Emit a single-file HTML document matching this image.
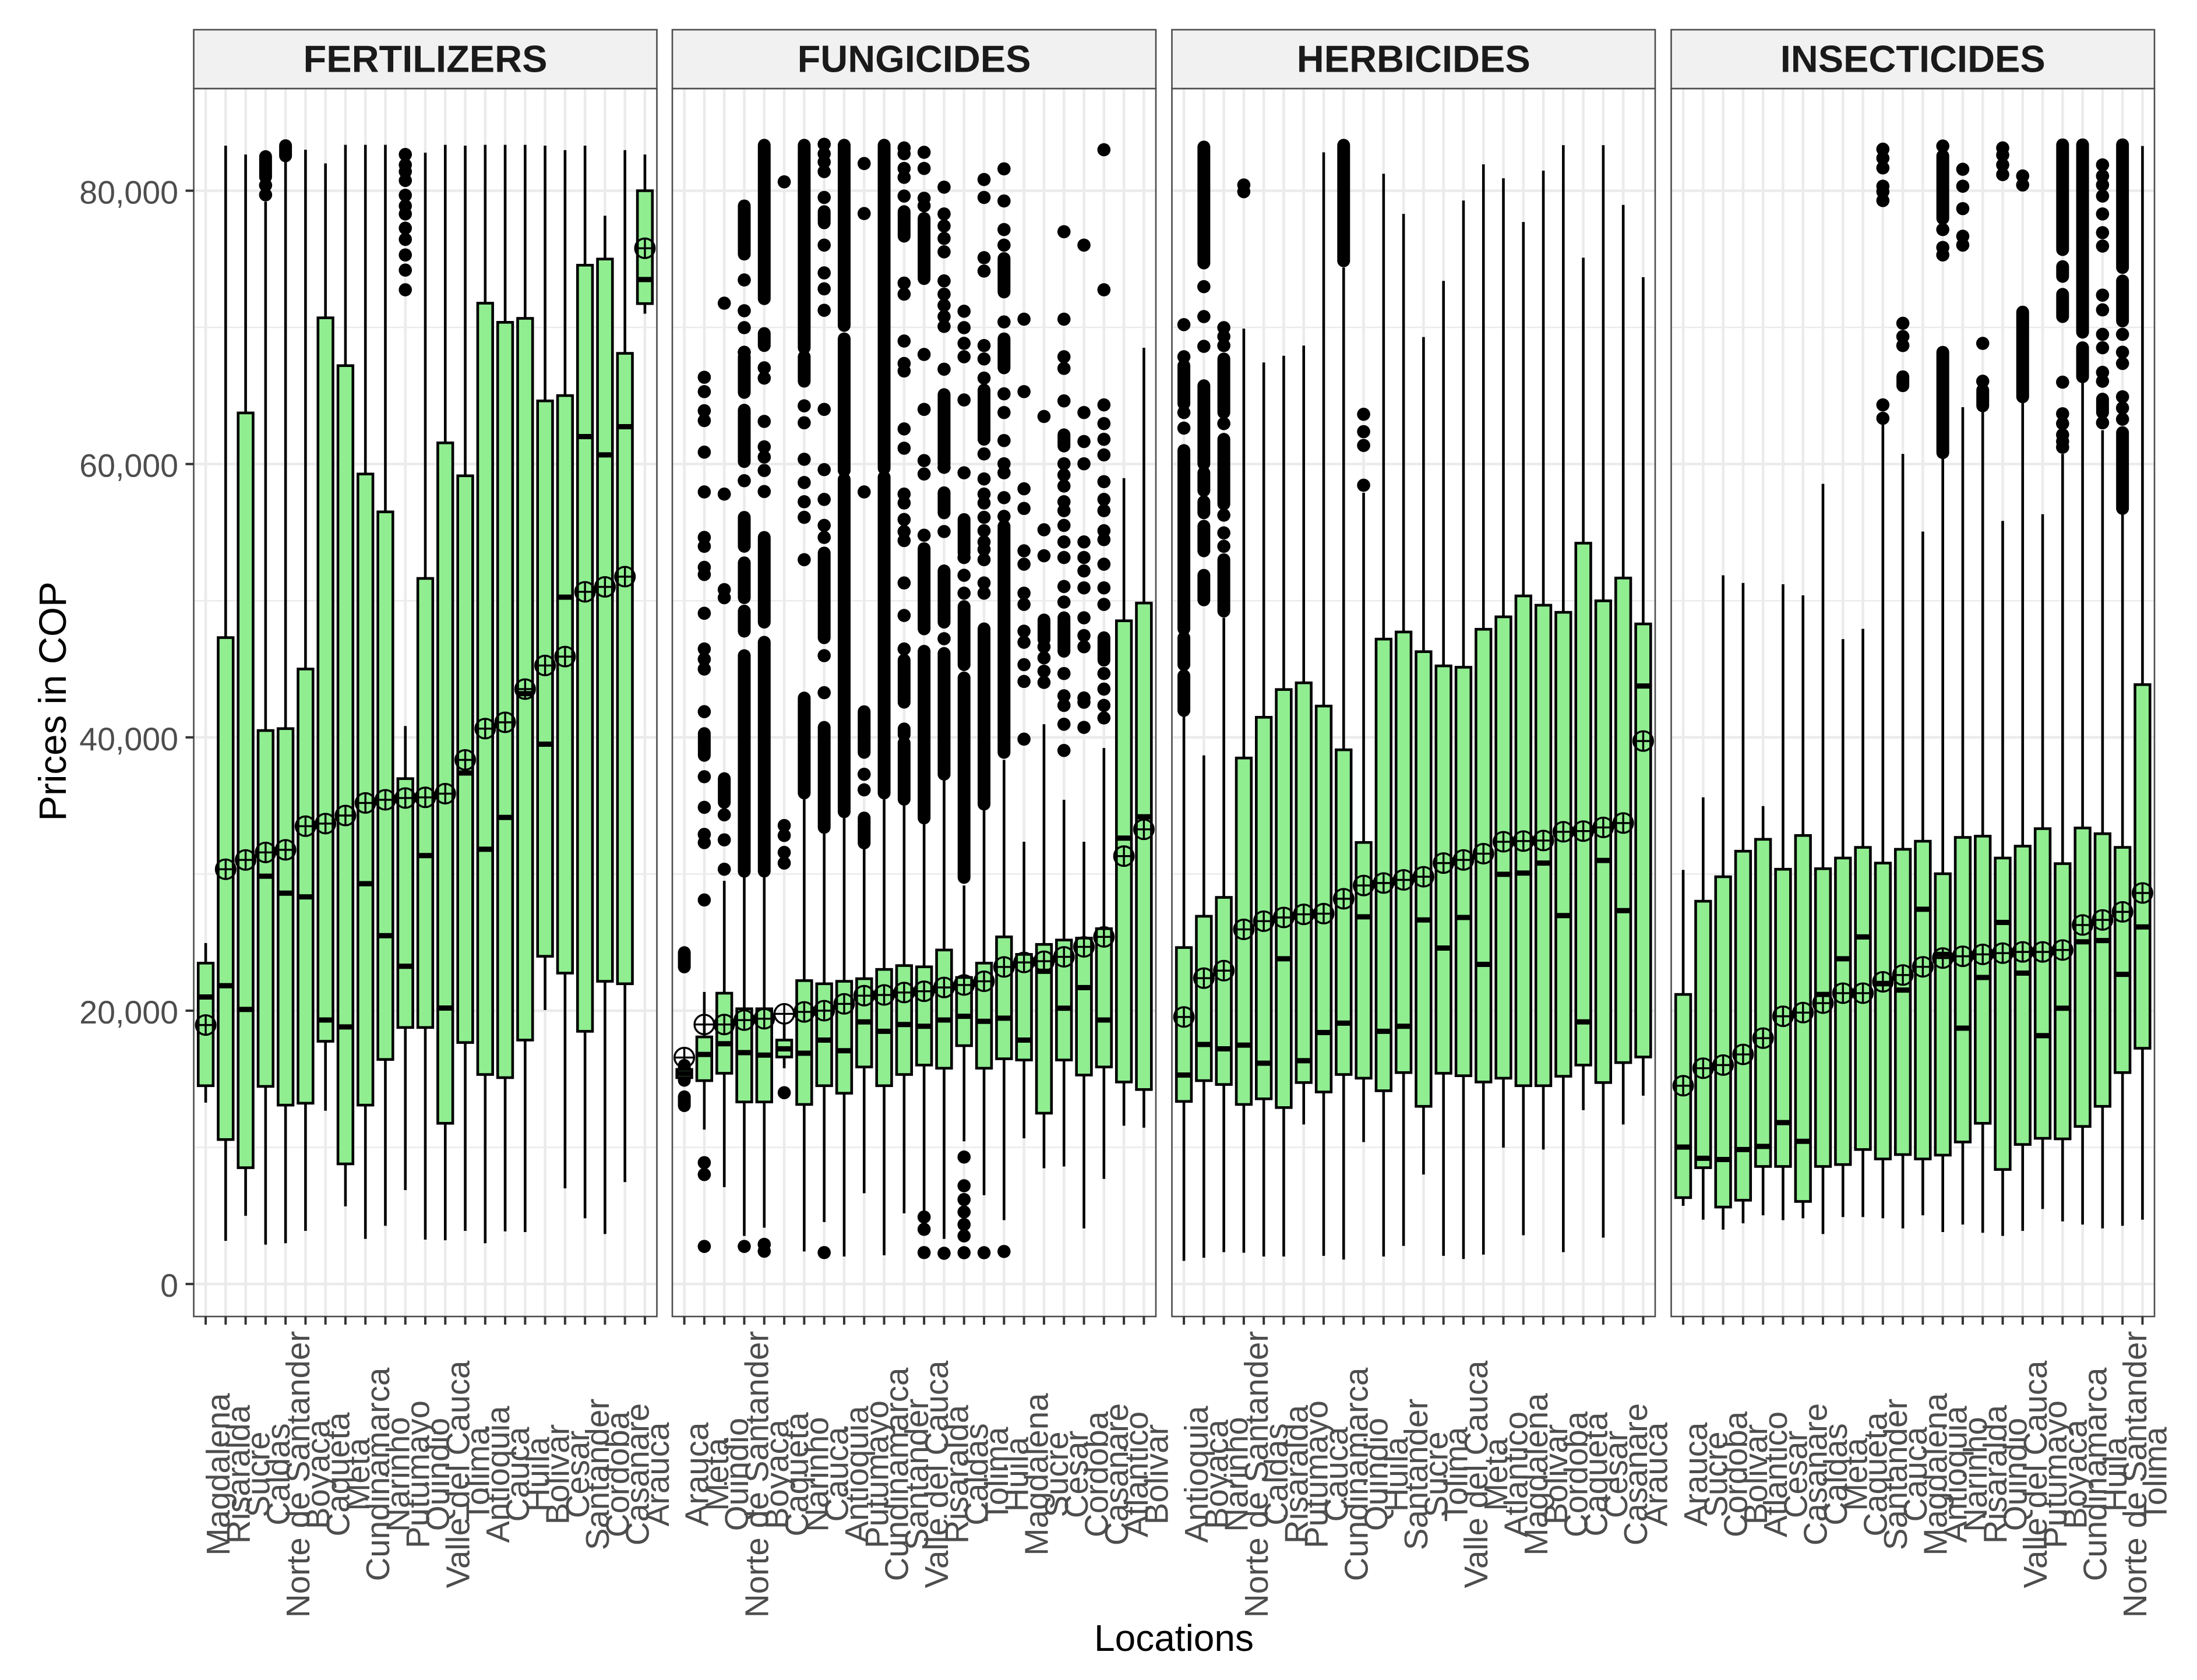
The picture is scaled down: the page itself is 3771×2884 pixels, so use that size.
<!DOCTYPE html>
<html lang="en">
<head>
<meta charset="utf-8">
<title>Prices in COP by location and product type</title>
<style>
html,body{margin:0;padding:0;background:#fff;}
#chart{display:block;width:3771px;height:2884px;font-family:"Liberation Sans",sans-serif;}
</style>
</head>
<body>
<svg id="chart" xmlns="http://www.w3.org/2000/svg" width="3771" height="2884" viewBox="0 0 3771 2884">
<rect x="0" y="0" width="3771" height="2884" fill="#ffffff"/>
</svg>
<script>
/* ---------- shared data ---------- */
const panelTitles = ["FERTILIZERS", "FUNGICIDES", "HERBICIDES", "INSECTICIDES"];
const yTickValues = [0, 20000, 40000, 60000, 80000];
const yTickLabels = ["0", "20,000", "40,000", "60,000", "80,000"];
const yMinorValues = [10000, 30000, 50000, 70000];

/* ---------- FERTILIZERS ---------- */
const fertilizersLocations = ["Magdalena","Risaralda","Sucre","Caldas","Norte de Santander","Boyaca","Caqueta","Meta","Cundinamarca","Narinho","Putumayo","Quindio","Valle del Cauca","Tolima","Antioquia","Cauca","Huila","Bolivar","Cesar","Santander","Cordoba","Casanare","Arauca"];
const fertilizersWhiskerHigh = [24950,83300,82650,79200,82300,83000,82000,83360,83360,83360,40830,82780,83360,83300,83360,83360,83360,83300,82970,83300,78170,82970,82650];
const fertilizersQ3 = [23480,47300,63740,40500,40640,45000,70700,67200,59270,56500,36980,51630,61550,59140,71770,70370,70660,64620,65010,74550,75000,68100,80000];
const fertilizersMedian = [21000,21830,20090,29840,28600,28330,19320,18810,29290,25490,23250,31350,20190,37390,31810,34140,43200,39500,50260,62010,60670,62730,73500];
const fertilizersQ1 = [14510,10570,8510,14460,13090,13230,17760,8790,13090,16430,18770,18770,11760,17670,15330,15100,17850,23980,22750,18490,22150,21970,71740];
const fertilizersWhiskerLow = [13270,3160,4990,2880,2980,3890,12680,5680,3300,4260,6870,3250,3200,3890,2980,3850,3800,20050,7000,4810,3660,7460,71000];
const fertilizersMean = [18950,30350,31030,31580,31770,33500,33690,34280,35200,35430,35560,35610,35880,38350,40640,41100,43530,45260,45910,50650,51010,51760,75790];
const fertilizersOutliers = [[],[],[],
 [[82500,81000],80400,79700],
 [[83300,82550]],
 [],[],[],[],[],
 [82650,81890,81400,80750,79670,78890,78300,77260,76440,75300,74190,72750],
 [],[],[],[],[],[],[],[],[],[],[],[]];

/* ---------- FUNGICIDES ---------- */
const fungicidesLocations = ["Arauca","Meta","Quindio","Norte de Santander","Boyaca","Caqueta","Narinho","Cauca","Antioquia","Putumayo","Cundinamarca","Santander","Valle del Cauca","Risaralda","Caldas","Tolima","Huila","Magdalena","Sucre","Cesar","Cordoba","Casanare","Atlantico","Bolivar"];
const fungicidesWhiskerHigh = [16300,21370,29500,29980,29750,19130,35470,32950,34100,31900,35470,35010,33640,36940,29160,34650,38350,32360,40960,35430,32360,39220,58970,68510];
const fungicidesQ3 = [15700,18080,21280,20140,20140,17850,22200,21970,22150,22340,23020,23300,23210,24440,22430,23480,25400,24120,24850,25170,25310,26000,48530,49830];
const fungicidesMedian = [15400,16800,17580,16930,16750,17210,16890,17850,17070,19180,18490,18990,18860,19320,19590,19220,19450,17850,22880,20180,21690,19320,32630,34190];
const fungicidesQ1 = [15100,14880,15420,13320,13320,16610,13140,14510,13960,15880,14510,15330,16020,15790,17440,15790,16480,16390,12500,16390,15290,15880,14780,14230];
const fungicidesWhiskerLow = [14600,11300,7090,3520,4120,15790,2380,4530,2010,6640,2100,5170,5360,3300,10440,6500,4670,10660,8470,8600,4070,7690,11580,11440];
const fungicidesMean = [16570,18990,18990,19310,19410,19770,19910,20000,20500,21100,21150,21330,21420,21700,21880,22150,23200,23530,23620,23940,24670,25400,31310,33270];
const fungicidesOutliers = [
 [[24250,23200],[16000,14900],[13700,13050]],
 [66350,65300,63900,63180,60870,57960,54630,53980,52440,51920,49080,46470,45720,45000,41880,[40280,38680],37120,34880,32900,32300,28100,8880,8010,2750],
 [71770,57800,50810,50220,[36980,35240],34330,32500,30350],
 [[78890,75360],73470,71220,69980,68180,[67850,65240],[63940,60180],58780,[56100,53980],[52770,50220],[49240,47770],[45980,30200],2750],
 [[83330,72100],[69550,68670],67040,66290,63120,61260,60510,59530,57990,[54630,48430],[46960,30210],2900,2400],
 [80650,33550,32820,31580,30800,14000],
 [[83330,68510],[67850,66060],64260,63020,60350,58650,57240,56100,53000,[42880,35930]],
 [83400,82700,82100,81400,79510,[78470,77650],76020,73990,72820,71250,64000,59590,57410,55510,54630,[53490,47290],45980,43270,[40730,33410],2300],
 [[83330,70140],[69160,59530],[58880,34560]],
 [81990,78330,57960,[41880,38900],37300,36160,[34100,32270]],
 [[83330,59690],[59040,35930]],
 [83130,82710,81630,80980,79610,[78470,76670],73240,72430,69000,67360,66810,62570,61160,57800,57150,55940,55060,54400,51300,48920,46470,[45650,42570],[40620,40200],[39590,35470]],
 [82810,81630,79450,78900,[77970,73570],68020,64000,60250,59270,54790,[53810,47940],[46300,34100],4900,4000,2300],
 [80260,78300,77420,76510,75530,73400,72430,71610,70790,70070,66940,[65080,60020],59760,[57900,56430],55060,[52180,48430],47220,[46140,37300],2250],
 [71180,69980,68830,67850,64690,59360,[55940,53500],53160,51860,50550,[49570,45320],[44350,29750],9290,7190,6180,5270,4350,3520,2290],
 [80820,79510,75100,74120,68670,67690,66290,[65410,61810],60740,58910,57800,57150,56100,55120,54300,53750,53000,51300,50550,[47940,35110],2290],
 [81600,79250,77160,76020,[75040,72590],70400,[69160,67040],65140,63770,61720,60020,59360,57540,56170,[55450,38900],2380],
 [70600,65300,58190,56750,53650,52670,50550,49730,47770,46960,45320,44090,39870],
 [63480,55190,53290,[48590,47150],46630,45820,44840,44020],
 [77000,70600,67850,67000,64620,[62140,61320],60020,59200,58390,57240,56590,55510,54300,53160,51040,49900,[48750,46300],44670,43040,42340,40960,39040],
 [76020,63770,61650,60020,54300,53160,52180,50940,48750,47450,46630,42880,42570,40730],
 [83000,72750,64330,62960,61810,60670,58710,57410,56590,55120,54470,52670,50940,49730,[47290,45650],44670,43530,42340,41420],
 [],[]];

/* ---------- HERBICIDES ---------- */
const herbicidesLocations = ["Antioquia","Boyaca","Narinho","Norte de Santander","Caldas","Risaralda","Putumayo","Cauca","Cundinamarca","Quindio","Huila","Santander","Sucre","Tolima","Valle del Cauca","Meta","Atlantico","Magdalena","Bolivar","Cordoba","Caqueta","Cesar","Casanare","Arauca"];
const herbicidesWhiskerHigh = [42110,38680,48750,69910,67430,67920,68670,82810,74380,57900,81240,78300,69290,73400,79280,81930,80910,77710,81470,83330,75100,83330,78960,73670];
const herbicidesQ3 = [24620,26910,28290,38490,41470,43500,43990,42290,39090,32310,47190,47710,46270,45230,45130,47910,48820,50350,49670,49150,54210,49990,51660,48300];
const herbicidesMedian = [15290,17530,17210,17480,16160,23800,16340,18400,19090,26870,18490,18860,26640,24580,26820,23390,29980,30070,30800,26960,19180,30990,27320,43760];
const herbicidesQ1 = [13360,14880,14600,13140,13550,12910,14740,14050,15330,15060,14140,15470,13000,15420,15240,14780,15060,14510,14510,15200,16020,14740,16200,16610];
const herbicidesWhiskerLow = [1690,1920,2330,2290,2010,2010,11670,2060,1790,10390,2010,2790,8010,2060,1830,2150,9980,3570,9840,2330,12720,3390,11670,13780];
const herbicidesMean = [19540,22380,22930,25950,26550,26820,27050,27100,28190,29160,29340,29570,29800,30800,31030,31490,32360,32410,32450,33090,33140,33410,33730,39730];
const herbicidesOutliers = [
 [70200,67850,[67200,64420],63770,62630,[60990,47940],[47290,45320],[44510,41970]],
 [[83200,74710],72980,70790,68610,[65730,60020],[59360,58060],[57240,56430],[55450,53650],[51860,50060]],
 [69980,69330,68670,[67690,63770],62960,[61810,57080],56260,54960,53980,[53000,49240]],
 [80420,79930],
 [],[],[],[],
 [[83330,74870]],
 [63640,62370,61360,58450],
 [],[],[],[],[],[],[],[],[],[],[],[],[],[]];

/* ---------- INSECTICIDES ---------- */
const insecticidesLocations = ["Arauca","Sucre","Cordoba","Bolivar","Atlantico","Cesar","Casanare","Caldas","Meta","Caqueta","Santander","Cauca","Magdalena","Antioquia","Narinho","Risaralda","Quindio","Valle del Cauca","Putumayo","Boyaca","Cundinamarca","Huila","Norte de Santander","Tolima"];
const insecticidesWhiskerHigh = [30300,35610,51860,51300,34970,51200,50390,58550,47190,47940,62960,60740,55060,60510,64160,63870,55840,64590,56330,60740,65960,62470,56430,83270];
const insecticidesQ3 = [21190,28010,29800,31670,32540,30350,32820,30390,31170,31950,30800,31810,32400,30020,32680,32770,31170,32040,33320,30760,33370,32950,31950,43860];
const insecticidesMedian = [10020,9200,9110,9840,10070,11810,10440,21190,23800,25400,21970,21510,27420,24120,18720,22430,26460,22750,18170,20180,25040,25130,22660,26130];
const insecticidesQ1 = [6320,8510,5630,6130,8600,8600,6040,8600,8740,9840,9150,9470,9150,9430,10390,11760,8380,10210,10660,10620,11530,13000,15470,17250];
const insecticidesWhiskerLow = [5720,4710,3980,4440,5030,4670,4810,3660,4900,4900,4810,4070,5030,3800,4350,3750,3520,3890,5490,4580,4350,4070,4260,4710];
const insecticidesMean = [14510,15790,16020,16800,17990,19590,19860,20550,21280,21280,22110,22610,23210,23850,23980,24120,24210,24300,24300,24440,26270,26640,27230,28610];
const insecticidesOutliers = [
 [],[],[],[],[],[],[],[],[],[],
 [83040,82380,81670,80330,79930,79280,64330,63350],
 [70300,69330,68670,[66390,65730]],
 [],
 [83270,[82550,77970],77160,75850,75300,[68180,60830]],
 [81570,80330,78690,76670,76020],
 [68830,66060,[65410,64260]],
 [83130,82610,81890,81180],
 [81080,80420,[71120,64920]],
 [],
 [[83360,75690],[74450,73730],[72420,70790],65990,63680,62960,62140,61650,61230],
 [[83360,69650],[68510,66390]],
 [81890,81080,80420,79610,78300,76930,75950,72360,71280,69490,68510,66710,66060,[64750,63770],63020],
 [[83360,74380],[73400,70470],69490,68180,67360,64920,64100,63280,[62300,56750]],
 []];

const facetLocations = [fertilizersLocations, fungicidesLocations, herbicidesLocations, insecticidesLocations];
const facetWhiskerHigh = [fertilizersWhiskerHigh, fungicidesWhiskerHigh, herbicidesWhiskerHigh, insecticidesWhiskerHigh];
const facetQ3 = [fertilizersQ3, fungicidesQ3, herbicidesQ3, insecticidesQ3];
const facetMedian = [fertilizersMedian, fungicidesMedian, herbicidesMedian, insecticidesMedian];
const facetQ1 = [fertilizersQ1, fungicidesQ1, herbicidesQ1, insecticidesQ1];
const facetWhiskerLow = [fertilizersWhiskerLow, fungicidesWhiskerLow, herbicidesWhiskerLow, insecticidesWhiskerLow];
const facetMean = [fertilizersMean, fungicidesMean, herbicidesMean, insecticidesMean];
const facetOutliers = [fertilizersOutliers, fungicidesOutliers, herbicidesOutliers, insecticidesOutliers];

/* ---------- layout ---------- */
const NS = "http://www.w3.org/2000/svg";
const svg = document.getElementById("chart");
const stripTop = 51, panelTop = 152, panelBottom = 2260;
const frames = [
  {left: 332.5, right: 1127.5},
  {left: 1154, right: 1984},
  {left: 2011.5, right: 2841},
  {left: 2868.5, right: 3698}
];
const GRID = "#EBEBEB", BORDER = "#4d4d4d", TICK = "#333333", TEXT = "#4D4D4D", FILL = "#90EE90";

function yScale(value) {
  return 2204.2 - value * 0.02346;
}
function xScale(frame, count, index) {
  const step = (frame.right - frame.left) / (count - 1 + 1.2);
  return frame.left + (index + 0.6) * step;
}
function stepOf(frame, count) {
  return (frame.right - frame.left) / (count - 1 + 1.2);
}
function make(tag, parent, attrs) {
  const el = document.createElementNS(NS, tag);
  for (const key in attrs) el.setAttribute(key, attrs[key]);
  parent.appendChild(el);
  return el;
}

function drawPanel(p) {
  const frame = frames[p];
  const names = facetLocations[p];
  const n = names.length;
  const boxW = stepOf(frame, n) * 0.75;

  const panel = make("g", svg, {});
  
  

  const bg = make("rect", panel, {x: frame.left, y: panelTop, width: frame.right - frame.left, height: panelBottom - panelTop, fill: "#fff"});
  
  

  yMinorValues.forEach(function (v) {
    const line = make("line", panel, {x1: frame.left, x2: frame.right, y1: yScale(v), y2: yScale(v), stroke: GRID, "stroke-width": 2.5});
    
    
  });
  yTickValues.forEach(function (v) {
    const line = make("line", panel, {x1: frame.left, x2: frame.right, y1: yScale(v), y2: yScale(v), stroke: GRID, "stroke-width": 4.5});
    
    
  });
  names.forEach(function (name, i) {
    const x = xScale(frame, n, i);
    const line = make("line", panel, {x1: x, x2: x, y1: panelTop, y2: panelBottom, stroke: GRID, "stroke-width": 4.5});
    
    
  });

  names.forEach(function (name, i) {
    const x = xScale(frame, n, i);
    const group = make("g", panel, {});
    
    

    const whisker = make("line", group, {x1: x, x2: x, y1: yScale(facetWhiskerHigh[p][i]), y2: yScale(facetWhiskerLow[p][i]), stroke: "#000", "stroke-width": 4.6});
    
    

    facetOutliers[p][i].forEach(function (o) {
      if (Array.isArray(o)) {
        const run = make("line", group, {x1: x, x2: x, y1: yScale(o[0]), y2: yScale(o[1]), stroke: "#000", "stroke-width": 22, "stroke-linecap": "round"});
        
        
      } else {
        const dot = make("circle", group, {cx: x, cy: yScale(o), r: 11.3, fill: "#000"});
        
        
      }
    });

    const top = yScale(facetQ3[p][i]), bottom = yScale(facetQ1[p][i]);
    const box = make("rect", group, {x: x - boxW / 2, y: top, width: boxW, height: bottom - top, fill: FILL, stroke: "#000", "stroke-width": 4.6});
    
    

    const med = make("line", group, {x1: x - boxW / 2, x2: x + boxW / 2, y1: yScale(facetMedian[p][i]), y2: yScale(facetMedian[p][i]), stroke: "#000", "stroke-width": 9});
    
    
  });

  names.forEach(function (name, i) {
    const x = xScale(frame, n, i);
    const y = yScale(facetMean[p][i]);
    const mean = make("g", panel, {fill: "none", stroke: "#000", "stroke-width": 3.4});
    
    
    make("circle", mean, {cx: x, cy: y, r: 16.8});
    make("line", mean, {x1: x - 16.8, x2: x + 16.8, y1: y, y2: y});
    make("line", mean, {x1: x, x2: x, y1: y - 16.8, y2: y + 16.8});
  });

  const border = make("rect", panel, {x: frame.left, y: panelTop, width: frame.right - frame.left, height: panelBottom - panelTop, fill: "none", stroke: BORDER, "stroke-width": 2.6});
  
  

  const strip = make("rect", panel, {x: frame.left, y: stripTop, width: frame.right - frame.left, height: panelTop - stripTop, fill: "#F1F1F1", stroke: BORDER, "stroke-width": 2.6});
  
  

  const title = make("text", panel, {x: (frame.left + frame.right) / 2, y: 123.5, "text-anchor": "middle", "font-size": 65, "font-weight": "bold", fill: "#1A1A1A"});
  
  
  title.textContent = panelTitles[p];

  names.forEach(function (name, i) {
    const x = xScale(frame, n, i);
    const tick = make("line", panel, {x1: x, x2: x, y1: panelBottom, y2: panelBottom + 14, stroke: TICK, "stroke-width": 4});
    
    

    const label = make("text", panel, {transform: "translate(" + (x + 41) + ",2531) rotate(-90)", "text-anchor": "middle", "font-size": 56.4, fill: TEXT});
    
    
    label.textContent = name;
  });
}

for (let p = 0; p < panelTitles.length; p++) drawPanel(p);

yTickValues.forEach(function (v, i) {
  const tick = make("line", svg, {x1: 318.5, x2: 332.5, y1: yScale(v), y2: yScale(v), stroke: TICK, "stroke-width": 4});
  
  

  const label = make("text", svg, {x: 306, y: yScale(v) + 22, "text-anchor": "end", "font-size": 55.5, fill: TEXT});
  
  
  label.textContent = yTickLabels[i];
});

const yTitle = make("text", svg, {transform: "translate(113,1204) rotate(-90)", "text-anchor": "middle", "font-size": 65.5, fill: "#000"});


yTitle.textContent = "Prices in COP";

const xTitle = make("text", svg, {x: 2015, y: 2834, "text-anchor": "middle", "font-size": 64, fill: "#000"});


xTitle.textContent = "Locations";
</script>
</body>
</html>
